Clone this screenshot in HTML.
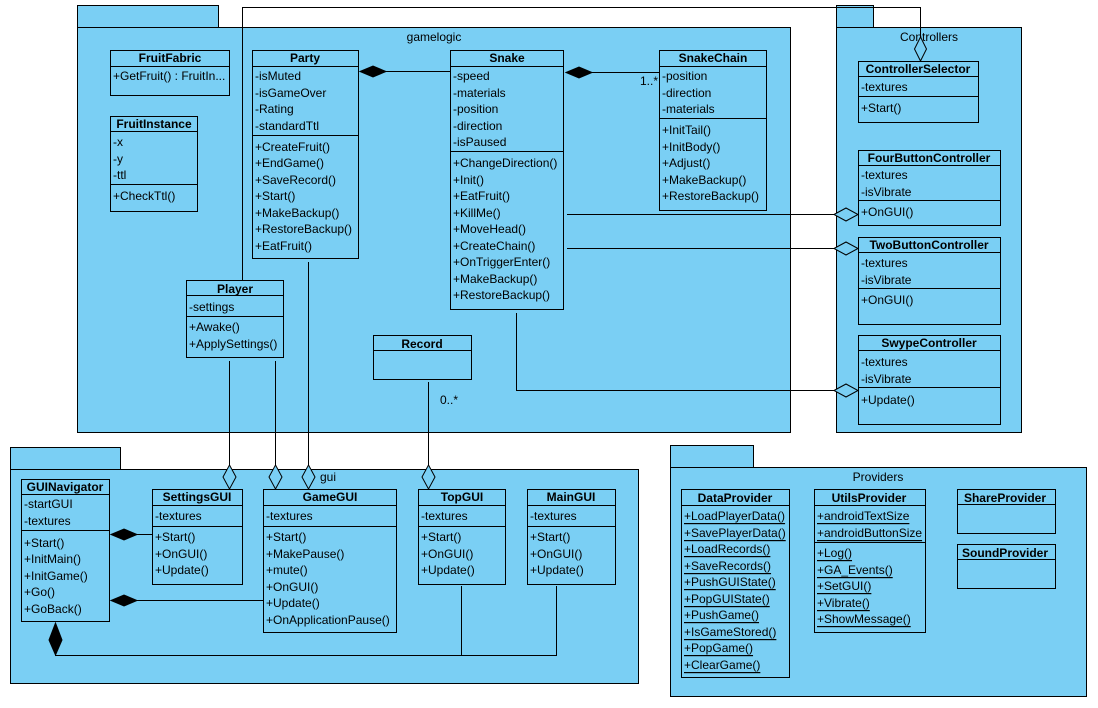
<!DOCTYPE html>
<html><head><meta charset="utf-8"><style>
html,body{margin:0;padding:0;background:#fff;}
svg{display:block;}
text{font-family:"Liberation Sans",sans-serif;font-size:12px;fill:#000;dominant-baseline:central;}
.h{font-weight:bold;text-anchor:middle;}
.u{text-decoration:underline;}
.p{fill:#7acff4;stroke:#000;stroke-width:1;}
.c{fill:#7acff4;stroke:#000;stroke-width:1;}
.l{stroke:#000;stroke-width:1;fill:none;}
.f{fill:#000;stroke:#000;}
.o{fill:#7acff4;stroke:#000;}
</style></head><body>
<svg width="1098" height="708" viewBox="0 0 1098 708" xmlns="http://www.w3.org/2000/svg">
<rect class="p" x="77.5" y="5.5" width="141" height="22"/>
<rect class="p" x="77.5" y="27.5" width="713" height="405"/>
<text x="434" y="37" style="text-anchor:middle">gamelogic</text>
<rect class="p" x="836.5" y="5.5" width="37" height="22"/>
<rect class="p" x="836.5" y="27.5" width="185" height="405"/>
<text x="929" y="37" style="text-anchor:middle">Controllers</text>
<rect class="p" x="10.5" y="447.5" width="110" height="22"/>
<rect class="p" x="10.5" y="469.5" width="628" height="214"/>
<rect class="p" x="670.5" y="445.5" width="83" height="22"/>
<rect class="p" x="670.5" y="467.5" width="416" height="229"/>
<text x="878" y="477" style="text-anchor:middle">Providers</text>

<polyline class="l" points="242.5,280 242.5,7.5 920.5,7.5 920.5,37"/>
<polygon class="o" points="920.5,37 926.5,49 920.5,61 914.5,49"/>

<rect class="c" x="110.5" y="50.5" width="119" height="45"/>
<line class="l" x1="110" y1="66.5" x2="230" y2="66.5"/>
<text class="h" x="170" y="58">FruitFabric</text>
<text x="113" y="76">+GetFruit() : FruitIn...</text>

<rect class="c" x="110.5" y="116.5" width="87" height="95"/>
<line class="l" x1="110" y1="131.5" x2="198" y2="131.5"/>
<line class="l" x1="110" y1="184.5" x2="198" y2="184.5"/>
<text class="h" x="154" y="124">FruitInstance</text>
<text x="113" y="142">-x</text><text x="113" y="159">-y</text><text x="113" y="175">-ttl</text>
<text x="113" y="196">+CheckTtl()</text>

<rect class="c" x="252.5" y="50.5" width="106" height="208"/>
<line class="l" x1="252" y1="66.5" x2="359" y2="66.5"/>
<line class="l" x1="252" y1="135.5" x2="359" y2="135.5"/>
<text class="h" x="305" y="58">Party</text>
<text x="255" y="76">-isMuted</text><text x="255" y="93">-isGameOver</text><text x="255" y="109">-Rating</text><text x="255" y="126">-standardTtl</text>
<text x="255" y="147">+CreateFruit()</text><text x="255" y="163">+EndGame()</text><text x="255" y="180">+SaveRecord()</text><text x="255" y="196">+Start()</text><text x="255" y="213">+MakeBackup()</text><text x="255" y="229">+RestoreBackup()</text><text x="255" y="246">+EatFruit()</text>

<rect class="c" x="450.5" y="50.5" width="113" height="259"/>
<line class="l" x1="450" y1="66.5" x2="564" y2="66.5"/>
<line class="l" x1="450" y1="151.5" x2="564" y2="151.5"/>
<text class="h" x="507" y="58">Snake</text>
<text x="453" y="76">-speed</text><text x="453" y="93">-materials</text><text x="453" y="109">-position</text><text x="453" y="126">-direction</text><text x="453" y="142">-isPaused</text>
<text x="453" y="163">+ChangeDirection()</text><text x="453" y="180">+Init()</text><text x="453" y="196">+EatFruit()</text><text x="453" y="213">+KillMe()</text><text x="453" y="229">+MoveHead()</text><text x="453" y="246">+CreateChain()</text><text x="453" y="262">+OnTriggerEnter()</text><text x="453" y="279">+MakeBackup()</text><text x="453" y="295">+RestoreBackup()</text>

<rect class="c" x="659.5" y="50.5" width="107" height="160"/>
<line class="l" x1="659" y1="66.5" x2="767" y2="66.5"/>
<line class="l" x1="659" y1="118.5" x2="767" y2="118.5"/>
<text class="h" x="713" y="58">SnakeChain</text>
<text x="662" y="76">-position</text><text x="662" y="93">-direction</text><text x="662" y="109">-materials</text>
<text x="662" y="130">+InitTail()</text><text x="662" y="147">+InitBody()</text><text x="662" y="163">+Adjust()</text><text x="662" y="180">+MakeBackup()</text><text x="662" y="196">+RestoreBackup()</text>

<rect class="c" x="186.5" y="280.5" width="97" height="77"/>
<line class="l" x1="186" y1="295.5" x2="284" y2="295.5"/>
<line class="l" x1="186" y1="316.5" x2="284" y2="316.5"/>
<text class="h" x="235" y="289">Player</text>
<text x="189" y="307">-settings</text>
<text x="189" y="327">+Awake()</text><text x="189" y="344">+ApplySettings()</text>

<rect class="c" x="373.5" y="335.5" width="98" height="44"/>
<line class="l" x1="373" y1="350.5" x2="472" y2="350.5"/>
<text class="h" x="422" y="344">Record</text>

<rect class="c" x="858.5" y="61.5" width="120" height="61"/>
<line class="l" x1="858" y1="76.5" x2="979" y2="76.5"/>
<line class="l" x1="858" y1="96.5" x2="979" y2="96.5"/>
<text class="h" x="918" y="69">ControllerSelector</text>
<text x="861" y="87">-textures</text><text x="861" y="108">+Start()</text>

<rect class="c" x="858.5" y="150.5" width="142" height="75"/>
<line class="l" x1="858" y1="165.5" x2="1001" y2="165.5"/>
<line class="l" x1="858" y1="200.5" x2="1001" y2="200.5"/>
<text class="h" x="929" y="158">FourButtonController</text>
<text x="861" y="175">-textures</text><text x="861" y="192">-isVibrate</text><text x="861" y="212">+OnGUI()</text>

<rect class="c" x="858.5" y="237.5" width="142" height="87"/>
<line class="l" x1="858" y1="252.5" x2="1001" y2="252.5"/>
<line class="l" x1="858" y1="288.5" x2="1001" y2="288.5"/>
<text class="h" x="929" y="245">TwoButtonController</text>
<text x="861" y="263">-textures</text><text x="861" y="280">-isVibrate</text><text x="861" y="300">+OnGUI()</text>

<rect class="c" x="858.5" y="335.5" width="142" height="89"/>
<line class="l" x1="858" y1="350.5" x2="1001" y2="350.5"/>
<line class="l" x1="858" y1="387.5" x2="1001" y2="387.5"/>
<text class="h" x="929" y="343">SwypeController</text>
<text x="861" y="362">-textures</text><text x="861" y="379">-isVibrate</text><text x="861" y="400">+Update()</text>

<line class="l" x1="386" y1="71.5" x2="450" y2="71.5"/>
<polygon class="f" points="360,71.5 373,66 386,71.5 373,77"/>
<line class="l" x1="592" y1="72.5" x2="659" y2="72.5"/>
<polygon class="f" points="566,72.5 579,67 592,72.5 579,78"/>
<text x="640" y="81">1..*</text>
<line class="l" x1="567" y1="214.5" x2="834" y2="214.5"/>
<polygon class="o" points="834,214.5 846,208 858,214.5 846,221"/>
<line class="l" x1="567" y1="248.5" x2="834" y2="248.5"/>
<polygon class="o" points="834,248.5 846,242 858,248.5 846,255"/>
<polyline class="l" points="516.5,313 516.5,390.5 834,390.5"/>
<polygon class="o" points="834,390.5 846,384 858,390.5 846,397"/>
<text x="440" y="400">0..*</text>

<line class="l" x1="229.5" y1="361" x2="229.5" y2="465"/>
<polygon class="o" points="229.5,465 236,477 229.5,489 223,477"/>
<line class="l" x1="275.5" y1="361" x2="275.5" y2="465"/>
<polygon class="o" points="275.5,465 282,477 275.5,489 269,477"/>
<line class="l" x1="308.5" y1="262" x2="308.5" y2="465"/>
<polygon class="o" points="308.5,465 315,477 308.5,489 302,477"/>
<text x="320" y="477">gui</text>
<line class="l" x1="428.5" y1="382" x2="428.5" y2="465"/>
<polygon class="o" points="428.5,465 435,477 428.5,489 422,477"/>

<rect class="c" x="21.5" y="479.5" width="88" height="142"/>
<line class="l" x1="21" y1="494.5" x2="110" y2="494.5"/>
<line class="l" x1="21" y1="530.5" x2="110" y2="530.5"/>
<text class="h" x="65" y="487">GUINavigator</text>
<text x="24" y="504">-startGUI</text><text x="24" y="521">-textures</text>
<text x="24" y="543">+Start()</text><text x="24" y="559">+InitMain()</text><text x="24" y="576">+InitGame()</text><text x="24" y="592">+Go()</text><text x="24" y="609">+GoBack()</text>

<rect class="c" x="152.5" y="489.5" width="90" height="95"/>
<line class="l" x1="152" y1="505.5" x2="243" y2="505.5"/>
<line class="l" x1="152" y1="526.5" x2="243" y2="526.5"/>
<text class="h" x="197" y="497">SettingsGUI</text>
<text x="155" y="516">-textures</text>
<text x="155" y="537">+Start()</text><text x="155" y="554">+OnGUI()</text><text x="155" y="570">+Update()</text>

<rect class="c" x="263.5" y="489.5" width="133" height="143"/>
<line class="l" x1="263" y1="505.5" x2="397" y2="505.5"/>
<line class="l" x1="263" y1="526.5" x2="397" y2="526.5"/>
<text class="h" x="330" y="497">GameGUI</text>
<text x="266" y="516">-textures</text>
<text x="266" y="537">+Start()</text><text x="266" y="554">+MakePause()</text><text x="266" y="570">+mute()</text><text x="266" y="587">+OnGUI()</text><text x="266" y="603">+Update()</text><text x="266" y="620">+OnApplicationPause()</text>

<rect class="c" x="418.5" y="489.5" width="87" height="95"/>
<line class="l" x1="418" y1="505.5" x2="506" y2="505.5"/>
<line class="l" x1="418" y1="526.5" x2="506" y2="526.5"/>
<text class="h" x="462" y="497">TopGUI</text>
<text x="421" y="516">-textures</text>
<text x="421" y="537">+Start()</text><text x="421" y="554">+OnGUI()</text><text x="421" y="570">+Update()</text>

<rect class="c" x="527.5" y="489.5" width="88" height="95"/>
<line class="l" x1="527" y1="505.5" x2="616" y2="505.5"/>
<line class="l" x1="527" y1="526.5" x2="616" y2="526.5"/>
<text class="h" x="571" y="497">MainGUI</text>
<text x="530" y="516">-textures</text>
<text x="530" y="537">+Start()</text><text x="530" y="554">+OnGUI()</text><text x="530" y="570">+Update()</text>

<line class="l" x1="137" y1="534.5" x2="152" y2="534.5"/>
<polygon class="f" points="111,534.5 124,529 137,534.5 124,540"/>
<line class="l" x1="137" y1="600.5" x2="263" y2="600.5"/>
<polygon class="f" points="111,600.5 124,595 137,600.5 124,606"/>
<polygon class="f" points="55.5,623 62,640 55.5,655 49,640"/>
<polyline class="l" points="55.5,655 55.5,655.5 556.5,655.5 556.5,586"/>
<line class="l" x1="461.5" y1="586" x2="461.5" y2="655"/>

<rect class="c" x="681.5" y="489.5" width="108" height="188"/>
<line class="l" x1="681" y1="505.5" x2="790" y2="505.5"/>
<text class="h" x="735" y="498">DataProvider</text>
<text class="u" x="684" y="516">+LoadPlayerData()</text>
<text class="u" x="684" y="533">+SavePlayerData()</text>
<text class="u" x="684" y="549">+LoadRecords()</text>
<text class="u" x="684" y="566">+SaveRecords()</text>
<text class="u" x="684" y="582">+PushGUIState()</text>
<text class="u" x="684" y="599">+PopGUIState()</text>
<text class="u" x="684" y="615">+PushGame()</text>
<text class="u" x="684" y="632">+IsGameStored()</text>
<text class="u" x="684" y="648">+PopGame()</text>
<text class="u" x="684" y="665">+ClearGame()</text>

<rect class="c" x="814.5" y="489.5" width="111" height="143"/>
<line class="l" x1="814" y1="505.5" x2="926" y2="505.5"/>
<line class="l" x1="814" y1="542.5" x2="926" y2="542.5"/>
<text class="h" x="869" y="498">UtilsProvider</text>
<text class="u" x="817" y="516">+androidTextSize</text>
<text class="u" x="817" y="533">+androidButtonSize</text>
<text class="u" x="817" y="553">+Log()</text>
<text class="u" x="817" y="570">+GA_Events()</text>
<text class="u" x="817" y="586">+SetGUI()</text>
<text class="u" x="817" y="603">+Vibrate()</text>
<text class="u" x="817" y="619">+ShowMessage()</text>

<rect class="c" x="957.5" y="489.5" width="98" height="44"/>
<line class="l" x1="957" y1="504.5" x2="1056" y2="504.5"/>
<text class="h" x="1005" y="498">ShareProvider</text>
<rect class="c" x="957.5" y="544.5" width="98" height="44"/>
<line class="l" x1="957" y1="559.5" x2="1056" y2="559.5"/>
<text class="h" x="1005" y="553">SoundProvider</text>
</svg>
</body></html>
